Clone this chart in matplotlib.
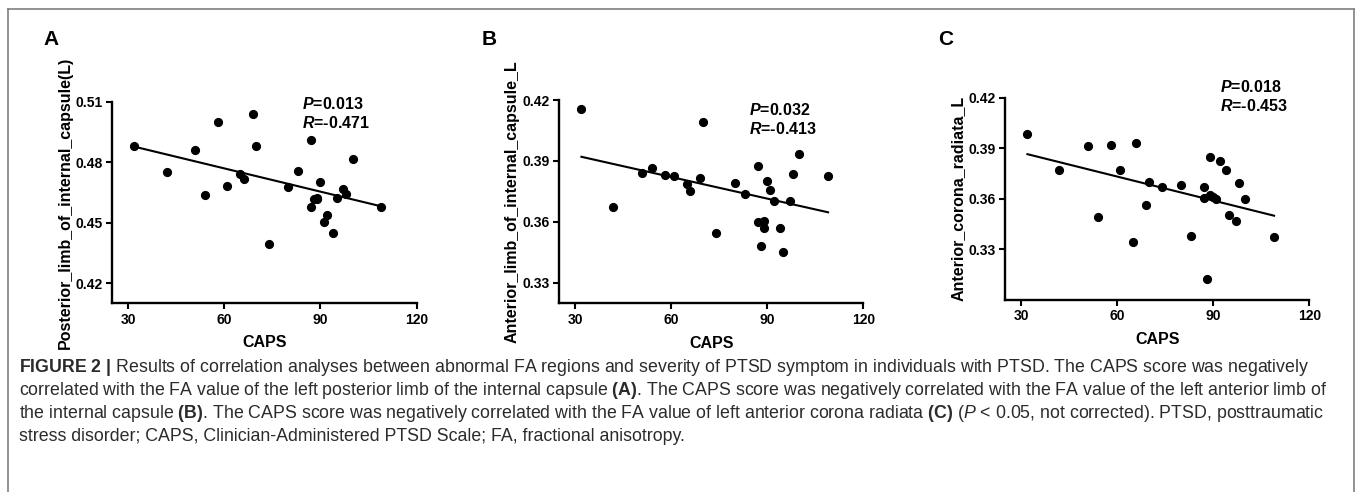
import numpy as np
import matplotlib
matplotlib.use("Agg")
import matplotlib.pyplot as plt
from matplotlib.lines import Line2D

plt.rcParams['font.family'] = ['Liberation Sans', 'DejaVu Sans']
plt.rcParams['mathtext.fontset'] = 'custom'
plt.rcParams['mathtext.rm'] = 'Liberation Sans'
plt.rcParams['mathtext.it'] = 'Liberation Sans:italic'
plt.rcParams['mathtext.bf'] = 'Liberation Sans:bold'
plt.rcParams['mathtext.bfit'] = 'Liberation Sans:italic:bold'

# CAPS scores (same subjects in all three panels)
caps = [32, 42, 51, 54, 58, 61, 65, 66, 69, 70, 74, 80, 83, 87, 87, 88, 89, 89,
        90, 91, 92, 94, 95, 97, 98, 100, 109]

# FA values
fa_plic = [0.488, 0.475, 0.486, 0.4636, 0.4998, 0.4684, 0.474, 0.4717, 0.504,
           0.4882, 0.4393, 0.4677, 0.4758, 0.4912, 0.4577, 0.4616, 0.4621, 0.4618,
           0.4704, 0.4504, 0.4537, 0.4448, 0.4623, 0.4665, 0.4644, 0.4816, 0.458]
fa_alic = [0.4157, 0.3675, 0.3842, 0.3866, 0.383, 0.3826, 0.3788, 0.3751, 0.3816,
           0.4092, 0.3544, 0.3793, 0.3739, 0.3875, 0.3598, 0.3482, 0.3604, 0.3572,
           0.3801, 0.3759, 0.3703, 0.3571, 0.3452, 0.3704, 0.3837, 0.3932, 0.3827]
fa_acr = [0.3984, 0.3771, 0.3913, 0.349, 0.3919, 0.3773, 0.3346, 0.3931, 0.3565,
          0.3702, 0.3668, 0.3684, 0.3379, 0.367, 0.3603, 0.3124, 0.385, 0.3624,
          0.3613, 0.3599, 0.3822, 0.3771, 0.3506, 0.347, 0.3694, 0.3599, 0.3375]

panel_letters = ["A", "B", "C"]
ylabels = ["Posterior_limb_of_internal_capsule(L)",
           "Anterior_limb_of_internal_capsule_L",
           "Anterior_corona_radiata_L"]
p_texts = ["0.013", "0.032", "0.018"]
r_texts = ["-0.471", "-0.413", "-0.453"]
yticks = [[0.42, 0.45, 0.48, 0.51], [0.33, 0.36, 0.39, 0.42], [0.33, 0.36, 0.39, 0.42]]
ylims = [(0.41, 0.51), (0.32, 0.42), (0.30, 0.42)]
xticks = [30, 60, 90, 120]

caption_lines = [
    r"$\mathbf{FIGURE\ 2\ |}$ Results of correlation analyses between abnormal FA regions and severity of PTSD symptom in individuals with PTSD. The CAPS score was negatively",
    r"correlated with the FA value of the left posterior limb of the internal capsule $\mathbf{(A)}$. The CAPS score was negatively correlated with the FA value of the left anterior limb of",
    r"the internal capsule $\mathbf{(B)}$. The CAPS score was negatively correlated with the FA value of left anterior corona radiata $\mathbf{(C)}$ ($\mathit{P}$ < 0.05, not corrected). PTSD, posttraumatic",
    r"stress disorder; CAPS, Clinician-Administered PTSD Scale; FA, fractional anisotropy.",
]

W, H = 1357, 492
fig = plt.figure(figsize=(W / 100, H / 100), dpi=100)


def px_axes(left, top, right, bottom):
    return [left / W, 1 - bottom / H, (right - left) / W, (bottom - top) / H]


boxes = [px_axes(112, 101.7, 416.7, 303.3),
         px_axes(559, 100, 863.3, 303.3),
         px_axes(1005, 97.7, 1309.3, 300)]
text_pos = [(84.2, 0.5064, 0.0095), (84.4, 0.4126, 0.0095), (92.1, 0.4236, 0.0115)]
letter_x = [43, 482, 938]

for i, fa in enumerate([fa_plic, fa_alic, fa_acr]):
    ax = fig.add_axes(boxes[i])
    x = np.array(caps)
    y = np.array(fa)
    ax.plot(x, y, 'o', color='black', ms=5.6, clip_on=False)
    k, b = np.polyfit(x, y, 1)
    xs = np.array([x.min(), x.max()])
    ax.plot(xs, k * xs + b, color='black', lw=1.5)

    ax.set_xlim(25, 120)
    ax.set_ylim(*ylims[i])
    ax.set_xticks(xticks)
    ax.set_yticks(yticks[i])
    ax.set_yticklabels([f"{t:.2f}" for t in yticks[i]])
    for s in ['top', 'right']:
        ax.spines[s].set_visible(False)
    for s in ['left', 'bottom']:
        ax.spines[s].set_linewidth(1.7)
    ax.tick_params(direction='out', length=4.3, width=1.5, pad=2.5,
                   labelsize=10)
    for lab in ax.get_xticklabels() + ax.get_yticklabels():
        lab.set_fontweight('bold')

    ax.set_xlabel("CAPS", fontsize=11.5, fontweight='bold')
    ax.xaxis.set_label_coords(0.5, -32 / 201.6)
    ax.set_ylabel(ylabels[i], fontsize=11.5, fontweight='bold')
    ax.yaxis.set_label_coords(-39 / 304.5, 0.5)

    tx, ty, dy = text_pos[i]
    ax.text(tx, ty, r"$\mathbfit{P}$=" + p_texts[i], fontsize=11.5,
            fontweight='bold', va='baseline', clip_on=False)
    ax.text(tx, ty - dy, r"$\mathbfit{R}$=" + r_texts[i], fontsize=11.5,
            fontweight='bold', va='baseline', clip_on=False)

    fig.text(letter_x[i] / W, 1 - 45 / H, panel_letters[i], fontsize=15,
             fontweight='bold', va='baseline')

# caption
for j, line in enumerate(caption_lines):
    fig.text(19 / W, 1 - (372 + 23 * j) / H, line, fontsize=12.8,
             color='#2b2b2b', va='baseline')

# frame around the figure
frame = dict(color='#7f7f7f', lw=1.2, transform=fig.transFigure)
fig.add_artist(Line2D([8 / W, 8 / W], [0, 1 - 8.5 / H], **frame))
fig.add_artist(Line2D([8 / W, 1354 / W], [1 - 8.5 / H, 1 - 8.5 / H], **frame))
fig.add_artist(Line2D([1354 / W, 1354 / W], [0, 1 - 8.5 / H], **frame))

fig.savefig("out.png", dpi=100)
